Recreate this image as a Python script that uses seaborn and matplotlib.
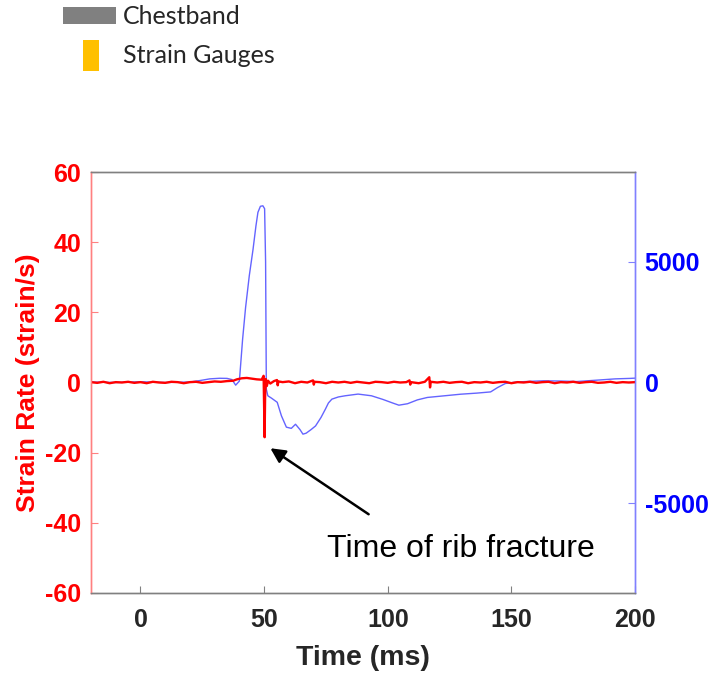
import numpy as np
import pandas as pd
import seaborn as sns
import matplotlib.pyplot as plt
from matplotlib.patches import Rectangle

# ------------------------------------------------------------
# data
# ------------------------------------------------------------
# strain gauge strain rate (left axis, strain/s)
sg_time = [-20, -17.5, -15, -12.5, -10, -7.5, -5, -2.5, 0, 2.5, 5, 7.5, 10, 12.5, 15,
           17.5, 20, 22.5, 25, 27.5, 30, 32.5, 35, 37.5, 39, 41, 43, 45, 47, 49,
           49.8, 50.2, 50.4, 50.7, 51.1, 51.6, 52.5, 54, 55.2, 55.5, 55.8, 57.5, 60,
           62.5, 65, 67.5, 69.8, 70.1, 70.4, 72.5, 75, 77.5, 80, 82.5, 85, 87.5, 90,
           92.5, 95, 97.5, 100, 102.5, 105, 107.5, 108.8, 109.1, 109.4, 112.5, 115,
           116.8, 117.1, 117.4, 120, 122.5, 125, 127.5, 130, 132.5, 135, 137.5, 140,
           142.5, 145, 147.5, 150, 152.5, 155, 157.5, 160, 162.5, 165, 167.5, 170,
           172.5, 175, 177.5, 180, 182.5, 185, 187.5, 190, 192.5, 195, 197.5, 200]
sg_rate = [0.1, -0.1, 0.2, -0.2, 0.1, 0.0, 0.2, -0.1, 0.1, -0.2, 0.2, 0.0, -0.1, 0.2, 0.1,
           -0.2, 0.1, 0.2, -0.1, 0.1, 0.3, 0.2, 0.4, 0.5, 0.9, 1.2, 1.3, 1.1, 0.9, 0.8,
           1.9, -15.6, -4.0, 1.0, -1.0, 0.5, -0.3, 0.4, 0.7, -0.8, 0.3, 0.1, 0.3,
           -0.2, 0.2, 0.0, 0.6, -0.6, 0.2, 0.1, -0.2, 0.2, 0.0, 0.2, -0.1, 0.2, 0.0,
           -0.2, 0.2, 0.1, -0.1, 0.2, 0.0, 0.1, 0.6, -0.6, 0.1, -0.2, 0.2,
           1.5, -1.4, 0.2, 0.0, 0.2, -0.1, 0.1, 0.2, -0.2, 0.1, 0.0, 0.2,
           -0.1, 0.1, 0.2, -0.2, 0.1, 0.0, 0.2, -0.1, 0.1, 0.2, -0.2, 0.1,
           0.0, 0.2, -0.1, 0.1, 0.2, -0.1, 0.0, 0.2, -0.1, 0.1, 0.0, 0.1]

# chestband signal (right axis)
cb_time = [-20, -10, 0, 10, 20, 24, 28, 32, 35, 37, 38.5, 40, 41.3, 42.5, 44, 45.5,
           46.7, 47.5, 48.5, 49.5, 50.2, 50.6, 50.9, 51.5, 53, 55.3, 57, 59, 61,
           62.7, 64.5, 65.7, 67, 69, 70.8, 73, 74.8, 76, 77.4, 80, 82.8, 88, 93.4, 98,
           102, 104.5, 108, 112, 116, 122, 129.5, 136, 141.6, 144.4, 147.6, 152,
           158, 163, 170, 176.5, 185, 192, 198, 200]
cb_value = [20, 0, 30, 0, 20, 80, 150, 175, 170, 120, -110, 60, 1790, 3100, 4420, 5500,
            6490, 7050, 7300, 7320, 7200, 5000, -280, -550, -650, -820, -1380, -1850, -1900,
            -1730, -1950, -2140, -2100, -1950, -1800, -1450, -1100, -850, -690, -600, -550,
            -480, -550, -700, -850, -940, -880, -720, -620, -560, -485, -440, -390, -210,
            -40, 20, 50, 70, 60, 40, 100, 150, 170, 180]

sg = pd.DataFrame({"time": sg_time, "rate": sg_rate})
cb = pd.DataFrame({"time": cb_time, "value": cb_value})

# ------------------------------------------------------------
# plot
# ------------------------------------------------------------
sns.set_style("white")
plt.rcParams["font.family"] = ["Liberation Sans", "DejaVu Sans"]
plt.rcParams["axes.unicode_minus"] = False

fig = plt.figure(figsize=(7.1, 6.74), dpi=100)
ax = fig.add_axes([0.1282, 0.1202, 0.7662, 0.6246])
ax2 = ax.twinx()

sns.lineplot(data=cb, x="time", y="value", ax=ax2, color="#6464FF", lw=1.0,
             estimator=None, sort=False)
sns.lineplot(data=sg, x="time", y="rate", ax=ax, color="red", lw=1.7,
             estimator=None, sort=False)

# red on top of blue
ax.set_zorder(ax2.get_zorder() + 1)
ax.patch.set_visible(False)

ax.set_xlim(-20, 200)
ax.set_ylim(-60, 60)
ax2.set_ylim(-8720, 8720)
ax.set_xticks([0, 50, 100, 150, 200])
ax.set_yticks([-60, -40, -20, 0, 20, 40, 60])
ax2.set_yticks([-5000, 0, 5000])

ax.set_xlabel("Time (ms)", fontsize=20.5, fontweight="bold", color="#262626", labelpad=9)
ax.set_ylabel("Strain Rate (strain/s)", fontsize=19, fontweight="bold", color="red", labelpad=4)
ax2.set_ylabel("")

ax.tick_params(axis="x", direction="in", length=5, width=0.8, color="#808080",
               labelsize=18, labelcolor="#262626", pad=11, bottom=True)
ax.tick_params(axis="y", direction="in", length=5, width=0.8, color="#FF8080",
               labelsize=18, labelcolor="red", pad=7, left=True)
ax2.tick_params(axis="y", direction="in", length=5, width=0.8, color="#8080FF",
                labelsize=18, labelcolor="blue", pad=7, right=True)
for lab in ax.get_xticklabels() + ax.get_yticklabels() + ax2.get_yticklabels():
    lab.set_fontweight("bold")

for a in (ax, ax2):
    a.spines["top"].set_color("#808080")
    a.spines["bottom"].set_color("#808080")
    a.spines["left"].set_color("#FF8080")
    a.spines["right"].set_color("#8080FF")
    for s in a.spines.values():
        s.set_linewidth(1.0)

# annotation
ax.annotate("", xy=(51.6, -18.3), xytext=(93.2, -38.0),
            arrowprops=dict(arrowstyle="-|>", color="black", lw=1.8, mutation_scale=22))
ax.text(75.4, -49.7, "Time of rib fracture", fontsize=23, color="black", va="baseline")

# legend drawn at the top of the figure
fig.add_artist(Rectangle((0.0887, 0.9644), 0.0746, 0.0252, transform=fig.transFigure,
                         facecolor="#808080", edgecolor="none"))
fig.add_artist(Rectangle((0.1169, 0.8947), 0.0225, 0.046, transform=fig.transFigure,
                         facecolor="#FFC000", edgecolor="none"))
fig.text(0.173, 0.976, "Chestband", fontsize=18, family=["Lato", "DejaVu Sans"], va="center")
fig.text(0.173, 0.917, "Strain Gauges", fontsize=18, family=["Lato", "DejaVu Sans"], va="center")

fig.savefig("out.png", dpi=100)
